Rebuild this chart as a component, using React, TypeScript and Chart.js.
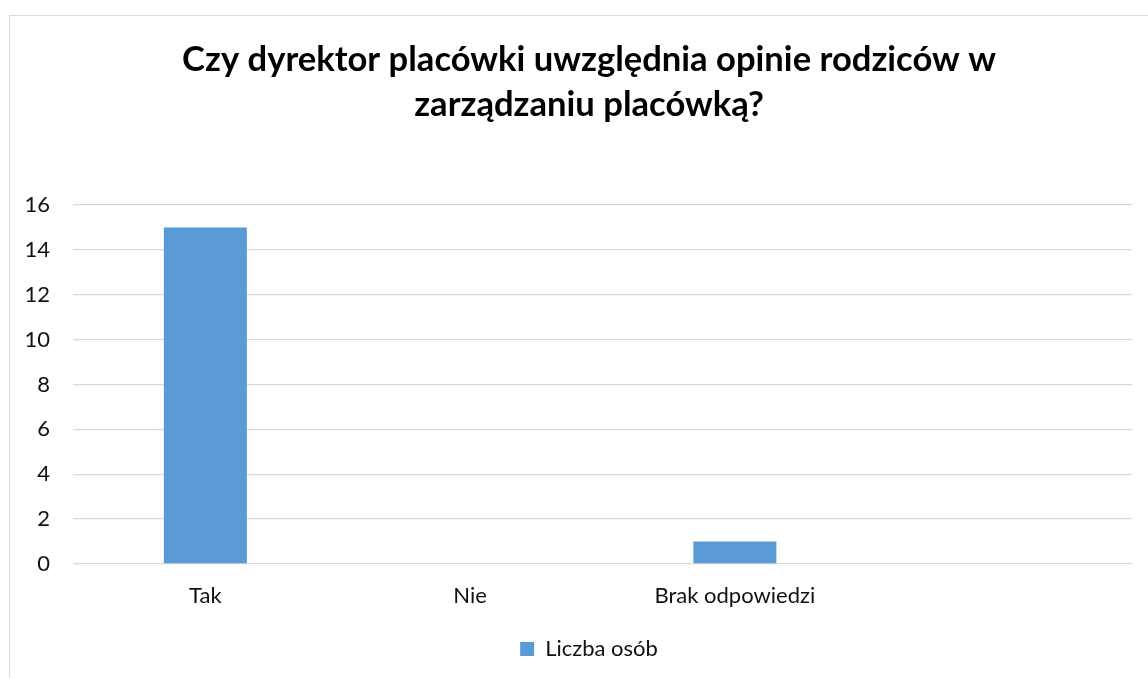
import React, { useEffect, useRef } from "react";
import { Chart, registerables } from "chart.js";

Chart.register(...registerables);

const categories: string[] = ["Tak", "Nie", "Brak odpowiedzi", ""];
const seriesName = "Liczba osób";
const values: (number | null)[] = [15, 0, 1, null];
const titleLines: string[] = [
  "Czy dyrektor placówki uwzględnia opinie rodziców w",
  "zarządzaniu placówką?",
];
const yMin = 0;
const yMax = 16;
const yStep = 2;

const FONT = "Lato, 'Open Sans', sans-serif";
const CW = 1158;
const CH = 662;

export default function App() {
  const ref = useRef<HTMLCanvasElement | null>(null);
  useEffect(() => {
    if (!ref.current) return;
    const chart = new Chart(ref.current, {
      type: "bar",
      data: {
        labels: categories,
        datasets: [
          {
            label: seriesName,
            data: values,
            backgroundColor: "#5B9BD5",
            borderWidth: 0,
            categoryPercentage: 1,
            barPercentage: 0.3135,
          },
        ],
      },
      options: {
        responsive: false,
        animation: false,
        devicePixelRatio: 1,
        layout: { padding: { left: 36, right: 36, top: 0, bottom: 8 } },
        plugins: {
          tooltip: { enabled: false },
          title: {
            display: true,
            text: titleLines,
            color: "#000000",
            font: { family: FONT, size: 34.6, weight: "bold", lineHeight: 44.5 / 34.6 },
            padding: { top: 21.75, bottom: 78.25 },
          },
          legend: {
            display: true,
            position: "bottom",
            labels: {
              boxWidth: 14,
              boxHeight: 14,
              padding: 30,
              color: "#111111",
              font: { family: FONT, size: 22 },
            },
          },
        },
        scales: {
          x: {
            grid: { display: false, drawTicks: false },
            border: { display: false },
            ticks: {
              color: "#111111",
              font: { family: FONT, size: 22 },
              padding: 18.8,
              maxRotation: 0,
              autoSkip: false,
            },
            afterFit: (scale: any) => {
              scale.height = 44;
            },
          },
          y: {
            min: yMin,
            max: yMax,
            grid: { color: "#d9d9d9", lineWidth: 1.3, drawTicks: false },
            border: { display: false },
            ticks: {
              stepSize: yStep,
              color: "#111111",
              font: { family: FONT, size: 22 },
              padding: 23,
            },
            afterFit: (scale: any) => {
              scale.width = 27;
              // let the tick labels extend into the layout padding
              scale._computeLabelArea = () => undefined;
            },
          },
        },
      },
    });
    return () => chart.destroy();
  }, []);

  return (
    <div
      style={{
        position: "fixed",
        left: 0,
        top: 0,
        width: 1148,
        height: 678,
        overflow: "hidden",
        background: "#ffffff",
      }}
    >
      <div
        style={{
          position: "absolute",
          left: 9,
          top: 15,
          width: 1200,
          height: 700,
          borderLeft: "1px solid #d9d9d9",
          borderTop: "1px solid #d9d9d9",
        }}
      />
      <canvas
        ref={ref}
        width={CW}
        height={CH}
        style={{ position: "absolute", left: 10, top: 16, width: CW, height: CH }}
      />
    </div>
  );
}
